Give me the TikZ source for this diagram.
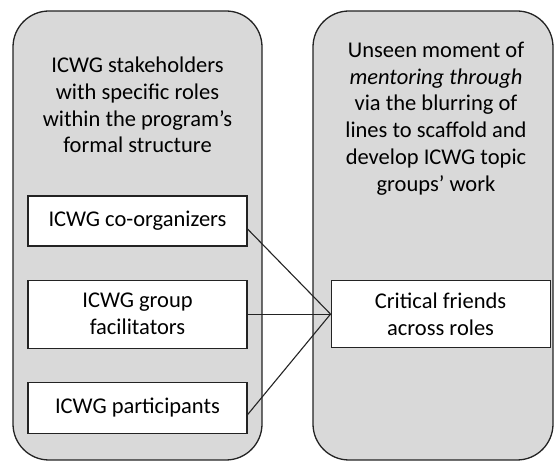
\documentclass[tikz,border=0pt]{standalone}
\usepackage{fontspec}
\setmainfont{Carlito}
\usetikzlibrary{positioning}
\definecolor{panelGray}{RGB}{217,217,217}
\definecolor{lineDark}{RGB}{35,35,35}

\begin{document}
\begin{tikzpicture}[
    x=1pt, y=1pt,
    node distance=33pt,
    panel/.style={rectangle, draw=lineDark, fill=panelGray, line width=1.3pt, rounded corners=36pt, minimum height=449pt},
    rolebox/.style={rectangle, draw=lineDark, fill=white, line width=1.1pt, minimum width=219pt, align=center, inner sep=0pt, font=\fontsize{22.5}{26.8}\selectfont},
    title/.style={align=center, font=\fontsize{22.5}{26.8}\selectfont},
    link/.style={draw=lineDark, line width=1.1pt}
]
\useasboundingbox (0,0) rectangle (554,462);

% Panels
\node[panel, minimum width=249pt] (leftpanel) at (137.5,226.5) {};
\node[panel, minimum width=240pt] (rightpanel) at (433,226.5) {};

% Titles
\node[title] (lefttitle) at (137.5,357) {ICWG stakeholders\\with specific roles\\within the program’s\\formal structure};
\node[title] (righttitle) at (436,343.5) {Unseen moment of\\\textit{mentoring through}\\via the blurring of\\lines to scaffold and\\develop ICWG topic\\groups’ work};

% Role boxes
\node[rolebox, minimum height=50pt] (coorg) at (137.5,241) {ICWG co-organizers};
\node[rolebox, minimum height=68pt, below=of coorg] (facil) {ICWG group\\facilitators};
\node[rolebox, minimum height=51pt, below=of facil] (part) {ICWG participants};
\node[rolebox, minimum height=67pt, right=83pt of facil] (critical) {Critical friends\\across roles};

% Links
\draw[link] ([yshift=-8pt]coorg.east) -- (critical.west);
\draw[link] (facil.east) -- (critical.west);
\draw[link] ([yshift=-7pt]part.east) -- (critical.west);
\end{tikzpicture}
\end{document}
